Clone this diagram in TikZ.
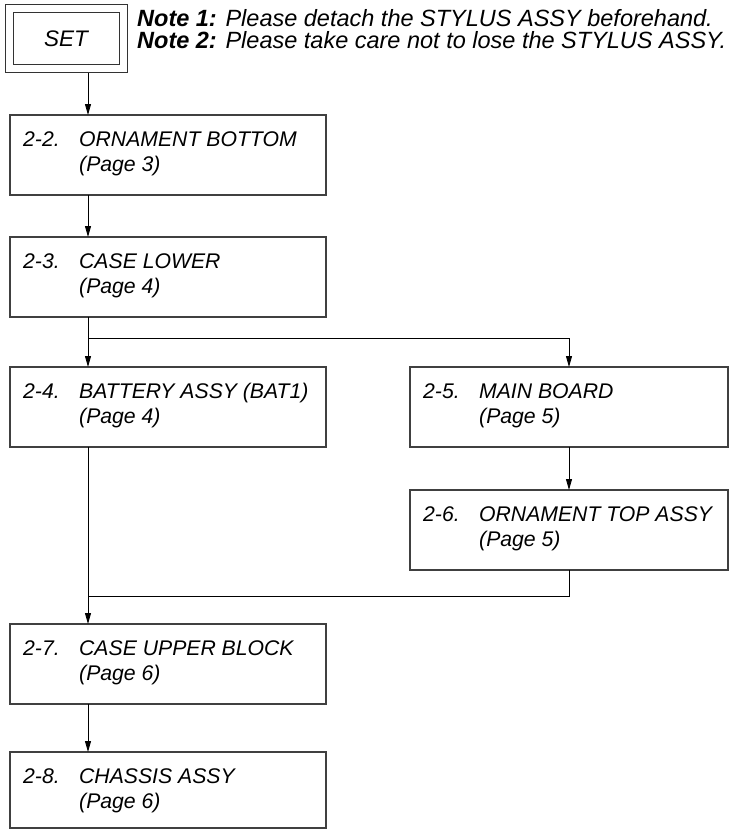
\documentclass[tikz,border=0pt]{standalone}
\usepackage{fontspec}
\setmainfont{Liberation Sans}
\usetikzlibrary{arrows.meta,positioning}

\begin{document}
\begin{tikzpicture}[x=1pt,y=-1pt,>={Triangle[length=11pt,width=6pt]},
    stepbox/.style={draw=black!75,line width=1.4pt,anchor=north west,minimum width=316pt,minimum height=80pt,inner sep=0pt,outer sep=0pt},
    steptext/.style={anchor=base west,inner sep=0pt,font=\itshape\fontsize{21.2}{26}\selectfont},
    notetext/.style={anchor=base west,inner sep=0pt,font=\itshape\fontsize{23.5}{26}\selectfont},
    conn/.style={line width=0.9pt}]
    \useasboundingbox (0,0) rectangle (730,830);
    % set box and notes
    \node[draw=black!80,double,double distance=7pt,line width=1pt,minimum width=114pt,minimum height=60pt,inner sep=0pt,outer sep=4.5pt,font=\itshape\fontsize{22.5}{26}\selectfont] (set) at (66,38.5) {SET};
    \node[notetext] (note1) at (137,26) {\textbf{Note 1:} Please detach the STYLUS ASSY beforehand.};
    \node[notetext] (note2) at (137,48) {\textbf{Note 2:} Please take care not to lose the STYLUS ASSY.};
    % boxes
    \node[stepbox] (b22) at (10,115) {};
    \node[steptext] (t22) at ([shift={(13pt,-31pt)}]b22.north west) {\makebox[56pt][l]{2-2.}ORNAMENT BOTTOM};
    \node[steptext] (p22) at ([shift={(69pt,-56pt)}]b22.north west) {(Page 3)};
    \node[stepbox] (b23) at (10,237) {};
    \node[steptext] (t23) at ([shift={(13pt,-31pt)}]b23.north west) {\makebox[56pt][l]{2-3.}CASE LOWER};
    \node[steptext] (p23) at ([shift={(69pt,-56pt)}]b23.north west) {(Page 4)};
    \node[stepbox] (b24) at (10,367) {};
    \node[steptext] (t24) at ([shift={(13pt,-31pt)}]b24.north west) {\makebox[56pt][l]{2-4.}BATTERY ASSY (BAT1)};
    \node[steptext] (p24) at ([shift={(69pt,-56pt)}]b24.north west) {(Page 4)};
    \node[stepbox,minimum width=318pt] (b25) at (410,367) {};
    \node[steptext] (t25) at ([shift={(13pt,-31pt)}]b25.north west) {\makebox[56pt][l]{2-5.}MAIN BOARD};
    \node[steptext] (p25) at ([shift={(69pt,-56pt)}]b25.north west) {(Page 5)};
    \node[stepbox,minimum width=318pt] (b26) at (410,490) {};
    \node[steptext] (t26) at ([shift={(13pt,-31pt)}]b26.north west) {\makebox[56pt][l]{2-6.}ORNAMENT TOP ASSY};
    \node[steptext] (p26) at ([shift={(69pt,-56pt)}]b26.north west) {(Page 5)};
    \node[stepbox] (b27) at (10,624) {};
    \node[steptext] (t27) at ([shift={(13pt,-31pt)}]b27.north west) {\makebox[56pt][l]{2-7.}CASE UPPER BLOCK};
    \node[steptext] (p27) at ([shift={(69pt,-56pt)}]b27.north west) {(Page 6)};
    \node[stepbox,minimum height=76pt] (b28) at (10,752) {};
    \node[steptext] (t28) at ([shift={(13pt,-31pt)}]b28.north west) {\makebox[56pt][l]{2-8.}CHASSIS ASSY};
    \node[steptext] (p28) at ([shift={(69pt,-56pt)}]b28.north west) {(Page 6)};
    % connectors
    \coordinate (lx) at (88,0);
    \coordinate (split) at (88,338);
    \coordinate (join) at (88,596);
    \draw[conn,->] (set.south -| lx) -- (b22.north -| lx);
    \draw[conn,->] (b22.south -| lx) -- (b23.north -| lx);
    \draw[conn,->] (b23.south -| lx) -- (b24.north -| lx);
    \draw[conn,->] (split) -| (b25.north);
    \draw[conn,->] (b25.south) -- (b26.north);
    \draw[conn,->] (b24.south -| lx) -- (b27.north -| lx);
    \draw[conn] (b26.south) |- (join);
    \draw[conn,->] (b27.south -| lx) -- (b28.north -| lx);
\end{tikzpicture}
\end{document}
